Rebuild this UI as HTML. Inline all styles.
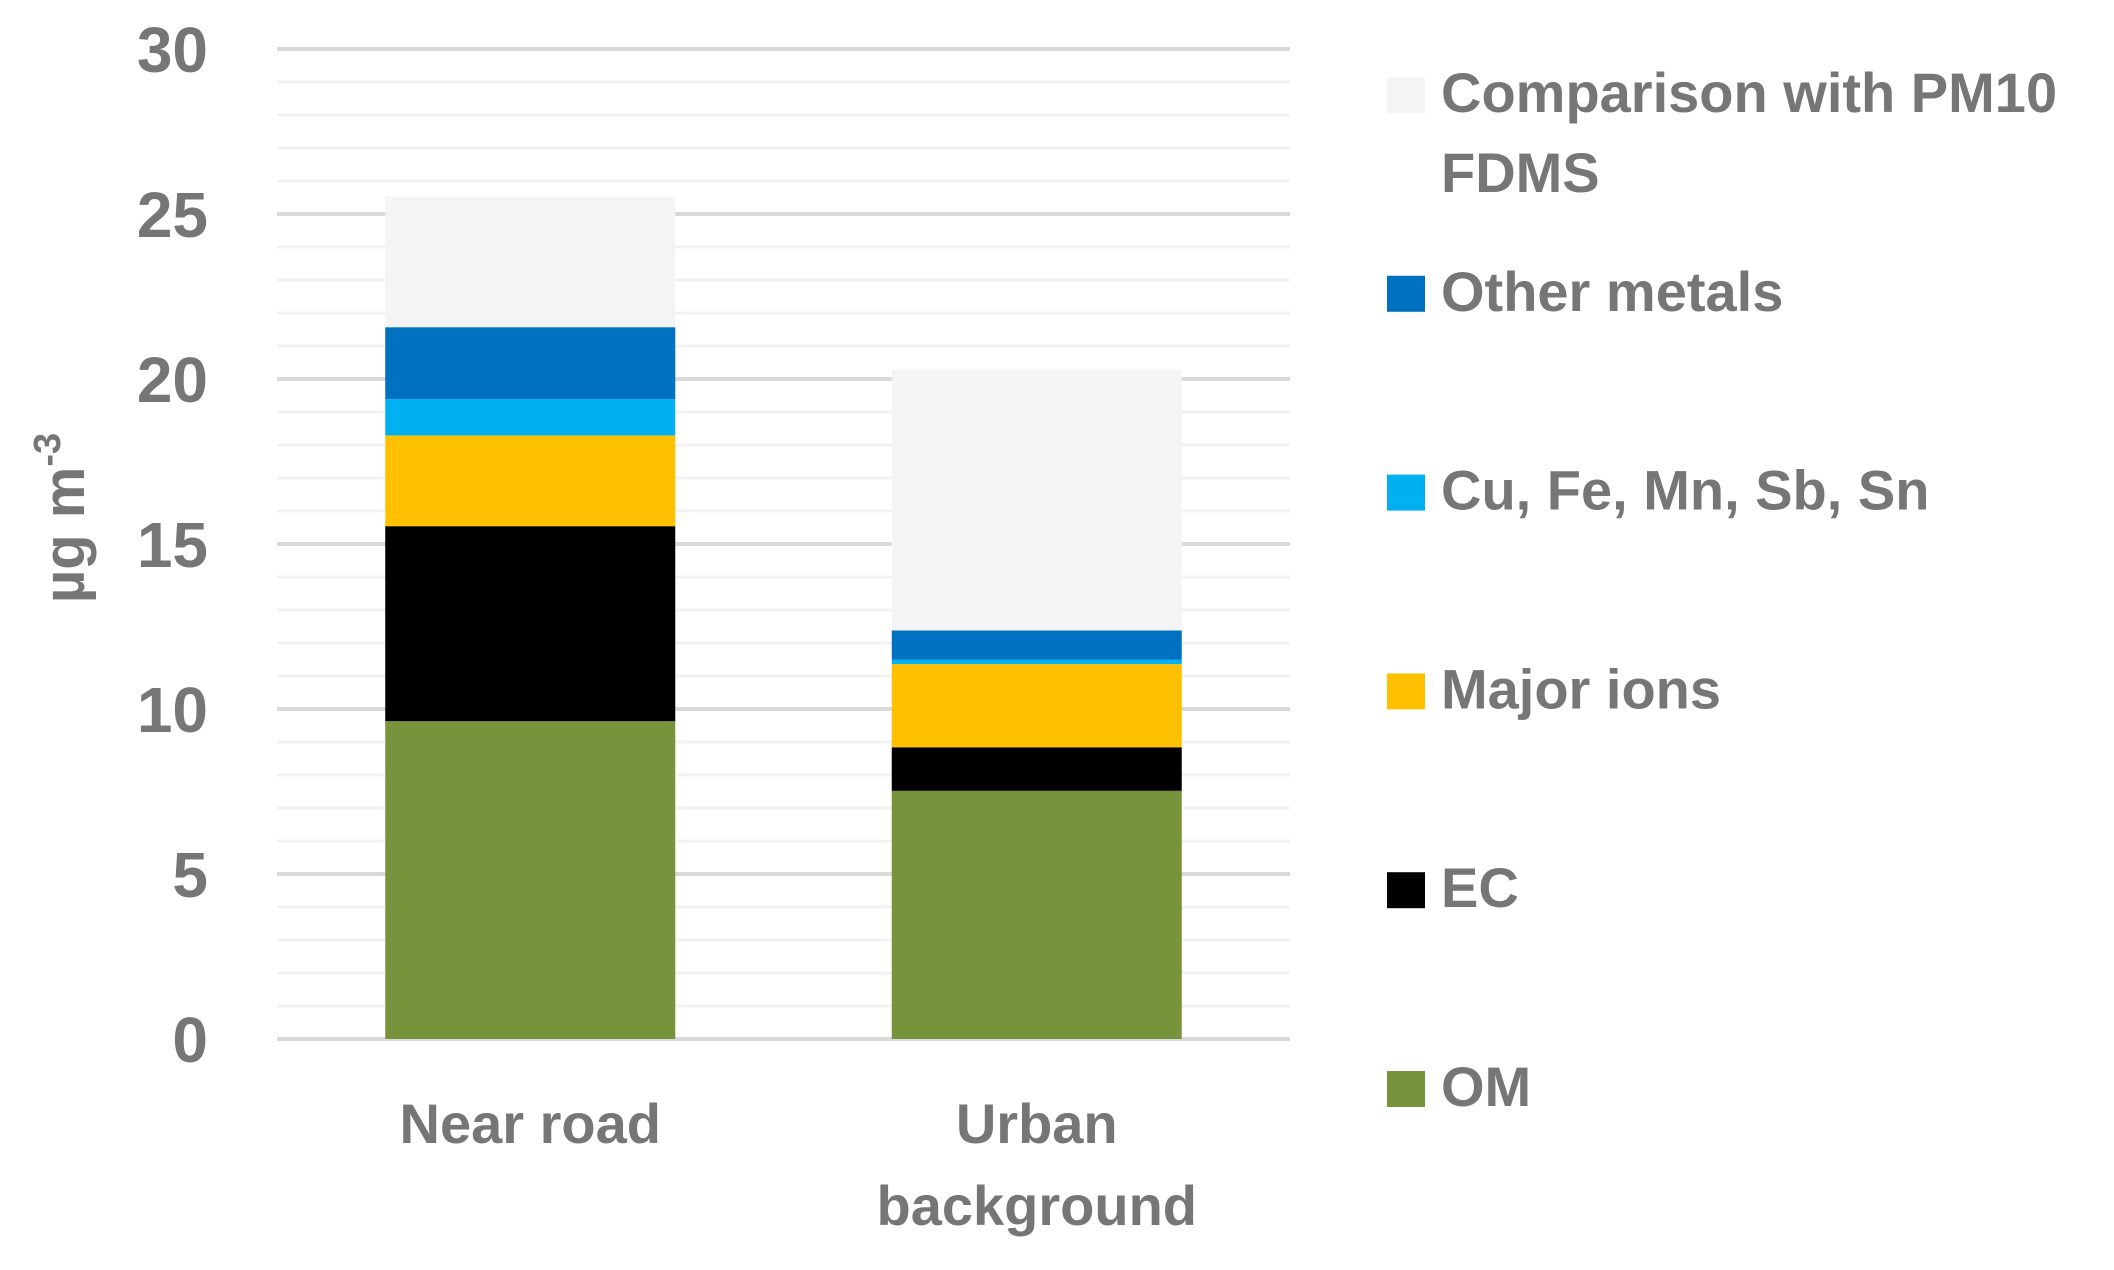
<!DOCTYPE html>
<html><head><meta charset="utf-8"><style>
body{margin:0;background:#fff;}
svg text{font-family:"Liberation Sans",sans-serif;font-weight:bold;fill:#767676;}
</style></head><body>
<svg id="chart" width="2114" height="1265" viewBox="0 0 2114 1265" xmlns="http://www.w3.org/2000/svg">
<g id="grid"></g><g id="bars"></g><g id="yticks"></g><g id="xlabels"></g><g id="legend"></g>
<text transform="translate(84,518) rotate(-90)" text-anchor="middle" font-size="58">µg m<tspan dy="-24" font-size="38">-3</tspan></text>
</svg>
<script>
const categories = ["Near road", "Urban background"];
const seriesNames = ["OM","EC","Major ions","Cu, Fe, Mn, Sb, Sn","Other metals","Comparison with PM10 FDMS"];
const seriesColors = ["#77933c","#000000","#ffc000","#00b0f0","#0070c0","#f4f4f4"];
const omVals = [9.63, 7.52];
const ecVals = [5.91, 1.32];
const ionVals = [2.75, 2.52];
const cuVals = [1.10, 0.14];
const metalVals = [2.18, 0.88];
const compVals = [3.96, 7.90];
const yTicks = [0,5,10,15,20,25,30];

const series=[omVals,ecVals,ionVals,cuVals,metalVals,compVals];
const NS="http://www.w3.org/2000/svg";
const x0=277,x1=1290,yBase=1039,yTop=49,yMax=30;
function y(v){return yBase-(v/yMax)*(yBase-yTop);}
const band=(x1-x0)/categories.length, barW=290;
function xc(i){return x0+band*(i+0.5);}
function mk(tag,attrs,parent){const e=document.createElementNS(NS,tag);for(const k in attrs)e.setAttribute(k,attrs[k]);parent.appendChild(e);return e;}
const grid=document.getElementById('grid');
for(let v=0;v<=yMax;v++){
  const major=v%5===0;
  const l=mk('line',{x1:x0,x2:x1,y1:y(v),y2:y(v),stroke:major?'#d9d9d9':'#f2f2f2','stroke-width':major?4:3},grid);
  
  
}
const yt=document.getElementById('yticks');
yTicks.forEach(v=>{
  const t=mk('text',{x:208,y:y(v)+23,'text-anchor':'end','font-size':64},yt);
  t.textContent=v;
  
  
});
const bars=document.getElementById('bars');
categories.forEach((c,i)=>{
  let cum=0;
  series.forEach((s,k)=>{
    const r=mk('rect',{x:xc(i)-barW/2,y:y(cum+s[i]),width:barW,height:y(cum)-y(cum+s[i]),fill:seriesColors[k]},bars);
    
    
    cum+=s[i];
  });
});
const xl=document.getElementById('xlabels');
const xLines=[["Near road"],["Urban","background"]];
categories.forEach((c,i)=>{
  xLines[i].forEach((ln,j)=>{
    const t=mk('text',{x:xc(i),y:1143+j*82,'text-anchor':'middle','font-size':56},xl);
    t.textContent=ln;
    
    
  });
});
const lg=document.getElementById('legend');
const legendOrder=[5,4,3,2,1,0];
const legendLines=[["Comparison with PM10","FDMS"],["Other metals"],["Cu, Fe, Mn, Sb, Sn"],["Major ions"],["EC"],["OM"]];
legendOrder.forEach((k,j)=>{
  const cy=95+j*198.8;
  const g=mk('g',{},lg);
  
  
  mk('rect',{x:1387,y:cy-18,width:38,height:36,fill:seriesColors[k]},g);
  legendLines[j].forEach((ln,m)=>{
    const t=mk('text',{x:1441,y:cy+17+m*80,'font-size':56},g);
    t.textContent=ln;
  });
});
</script>
</body></html>
